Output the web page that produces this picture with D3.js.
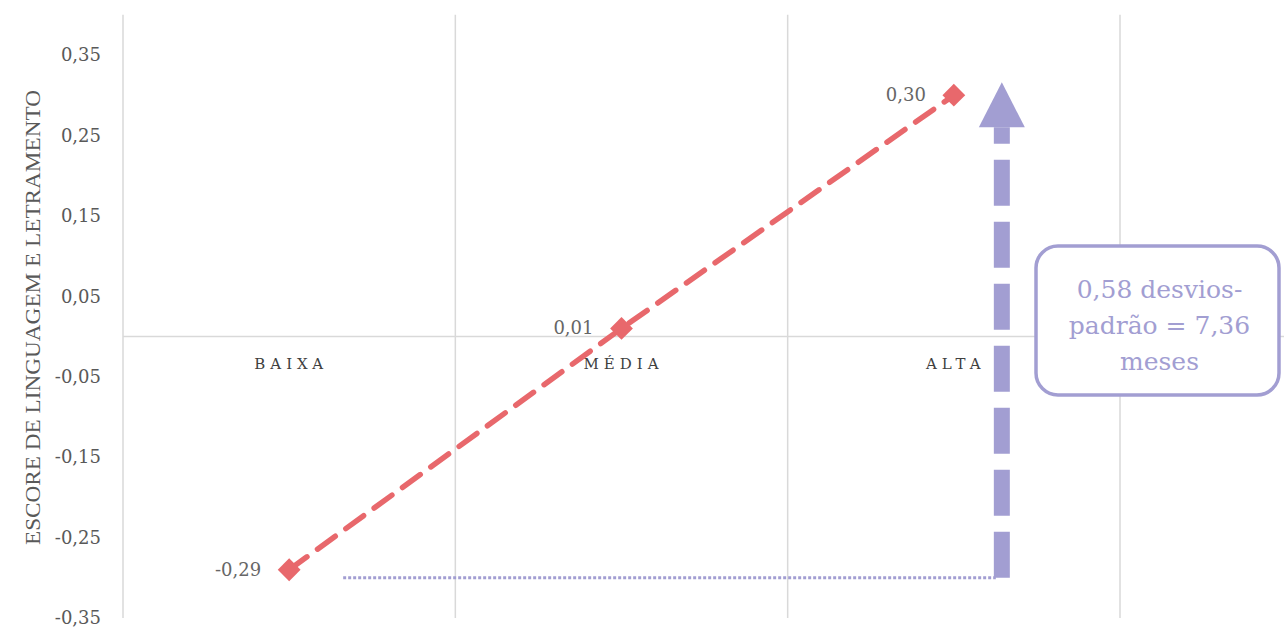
<!DOCTYPE html>
<html>
<head>
<meta charset="utf-8">
<script src="https://cdn.jsdelivr.net/npm/d3@7"></script>
<style>
  html, body { margin: 0; padding: 0; background: #fff; }
  svg { display: block; }
</style>
</head>
<body>
<svg id="chart" width="1284" height="627"></svg>
<script>
// ---- data ----
const categories = ["BAIXA", "MÉDIA", "ALTA"];
const values = [-0.29, 0.01, 0.30];
const valueLabels = ["-0,29", "0,01", "0,30"];
const yTicks = [-0.35, -0.25, -0.15, -0.05, 0.05, 0.15, 0.25, 0.35];
const yTickLabels = ["-0,35", "-0,25", "-0,15", "-0,05", "0,05", "0,15", "0,25", "0,35"];
const yTitle = "ESCORE DE LINGUAGEM E LETRAMENTO";
const arrowFrom = -0.30;
const arrowTo = 0.316;
const boxLines = ["0,58 desvios-", "padrão = 7,36", "meses"];

// ---- layout ----
const svg = d3.select("#chart");
const left = 123, right = 1120;
const x = d3.scaleBand().domain(categories).range([left, right]).paddingInner(0).paddingOuter(0);
const y = d3.scaleLinear().domain([-0.35, 0.35]).range([618, 55]);
const serif = "'DejaVu Serif', 'Liberation Serif', serif";
const serif2 = "'Liberation Serif', 'DejaVu Serif', serif";
const red = "#E8686C";
const purple = "#A29ED2";

// vertical gridlines at band edges
const edges = categories.map(c => x(c)).concat([right]);
svg.append("g").selectAll("line").data(edges).join("line")
  .attr("x1", d => d).attr("x2", d => d)
  .attr("y1", y(0.40)).attr("y2", y(-0.35))
  .attr("stroke", "#d9d9d9").attr("stroke-width", 1.5);

// zero line
svg.append("line")
  .attr("x1", left).attr("x2", 1284)
  .attr("y1", y(0)).attr("y2", y(0))
  .attr("stroke", "#d9d9d9").attr("stroke-width", 1.5);

// y axis tick labels via d3 axis
const yAxis = d3.axisLeft(y).tickValues(yTicks)
  .tickFormat((d, i) => yTickLabels[i]).tickSize(0).tickPadding(0);
const gy = svg.append("g").attr("transform", "translate(101,0)").call(yAxis);
gy.attr("font-size", null).attr("font-family", null);
gy.select(".domain").remove();
gy.selectAll("text")
  .style("font-family", serif).style("font-size", "18px").attr("fill", "#595959");

// y title
svg.append("text")
  .attr("transform", `translate(40,${(90 + 545) / 2}) rotate(-90)`)
  .attr("text-anchor", "middle")
  .style("font-family", serif2).style("font-size", "21px").attr("fill", "#595959")
  .attr("textLength", 455).attr("lengthAdjust", "spacingAndGlyphs")
  .text(yTitle);

// category labels
svg.append("g").selectAll("text").data(categories).join("text")
  .attr("x", d => x(d) + x.bandwidth() / 2 + 2)
  .attr("y", y(0) + 32)
  .attr("text-anchor", "middle")
  .style("font-family", serif).style("font-size", "15px").attr("fill", "#404040")
  .attr("letter-spacing", 5)
  .text(d => d);

// dotted horizontal reference
const arrowX = x("ALTA") + x.bandwidth() / 2 + 48;
svg.append("line")
  .attr("x1", x("BAIXA") + x.bandwidth() / 2 + 54).attr("x2", arrowX - 6)
  .attr("y1", y(arrowFrom)).attr("y2", y(arrowFrom))
  .attr("stroke", purple).attr("stroke-width", 3)
  .attr("stroke-dasharray", "3,2");

// dashed series line
const line = d3.line().x((d, i) => x(categories[i]) + x.bandwidth() / 2).y(d => y(d));
svg.append("path").datum(values)
  .attr("d", line).attr("fill", "none")
  .attr("stroke", red).attr("stroke-width", 5.5)
  .attr("stroke-dasharray", "22,13").attr("stroke-linecap", "round");

// diamond markers
svg.append("g").selectAll("path").data(values).join("path")
  .attr("d", d3.symbol().type(d3.symbolSquare).size(260))
  .attr("transform", (d, i) => `translate(${x(categories[i]) + x.bandwidth() / 2},${y(d)}) rotate(45)`)
  .attr("fill", red);

// data labels
svg.append("g").selectAll("text").data(values).join("text")
  .attr("x", (d, i) => x(categories[i]) + x.bandwidth() / 2 - 28)
  .attr("y", d => y(d) + 6)
  .attr("text-anchor", "end")
  .style("font-family", serif).style("font-size", "18px").attr("fill", "#666")
  .text((d, i) => valueLabels[i]);

// dashed arrow
const headH = 45, headW = 46;
const yTop = y(arrowTo), yBase = yTop + headH;
svg.append("line")
  .attr("x1", arrowX).attr("x2", arrowX)
  .attr("y1", y(arrowFrom)).attr("y2", yBase)
  .attr("stroke", purple).attr("stroke-width", 16)
  .attr("stroke-dasharray", "46,16");
svg.append("path")
  .attr("d", `M${arrowX},${yTop} L${arrowX + headW / 2},${yBase} L${arrowX - headW / 2},${yBase} Z`)
  .attr("fill", purple);

// annotation box
const bx = 1036, by = 246, bw = 243, bh = 149;
svg.append("rect")
  .attr("x", bx).attr("y", by).attr("width", bw).attr("height", bh)
  .attr("rx", 22).attr("ry", 22)
  .attr("fill", "#fff").attr("stroke", purple).attr("stroke-width", 3.5);
svg.append("g").selectAll("text").data(boxLines).join("text")
  .attr("x", bx + bw / 2 + 2)
  .attr("y", (d, i) => by + 52 + i * 36)
  .attr("text-anchor", "middle")
  .style("font-family", serif).style("font-size", "25px").attr("fill", purple)
  .text(d => d);
</script>
</body>
</html>
